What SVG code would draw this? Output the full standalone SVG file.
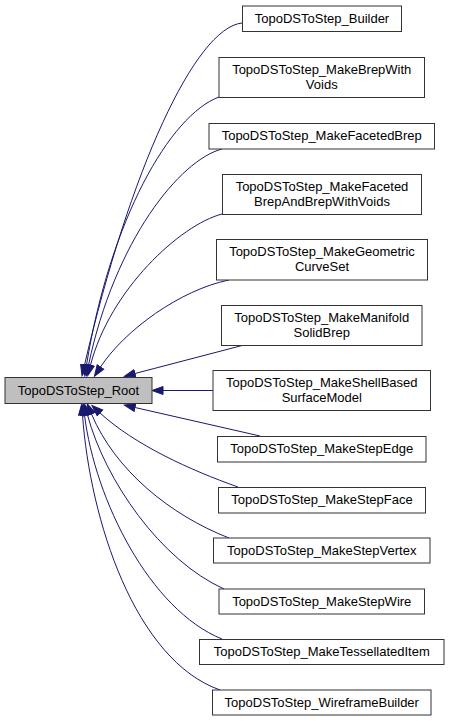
<svg xmlns="http://www.w3.org/2000/svg" width="449" height="721" viewBox="0 0 449 721">
<defs>
<style>
.n rect{fill:#ffffff;stroke:#333333;stroke-width:1}
.n.root rect{fill:#bfbfbf}
.n text{font-family:"Liberation Sans",Arial,sans-serif;font-size:13px;fill:#000000;text-anchor:middle}
.e path{fill:none;stroke:#191970;stroke-width:1;marker-end:url(#ah)}
</style>
<marker id="ah" markerUnits="userSpaceOnUse" markerWidth="13" markerHeight="12" refX="0.5" refY="6" orient="auto" viewBox="0 0 13 12">
<path d="M0.5,2 L11.5,6 L0.5,10 z" fill="#191970" stroke="#191970" stroke-width="1"/>
</marker>
</defs>
<rect width="449" height="721" fill="#ffffff"/>
<g id="edges" class="e">
<path d="M242,23 C195,28 130,170 84.5,365"/>
<path d="M219,97 C170,115 110,220 86.5,365"/>
<path d="M222,149 C180,160 115,240 88.5,365"/>
<path d="M222,214 C180,225 110,290 90.5,365"/>
<path d="M229,280 C180,290 125,330 100.5,367"/>
<path d="M244,345 L135,373.5"/>
<path d="M213,390.5 L163,390.5"/>
<path d="M260,436 L135,407.5"/>
<path d="M238,487 C190,470 135,445 100,413"/>
<path d="M229,538 C170,515 115,470 91.5,414"/>
<path d="M224,589 C160,560 105,480 87.5,415"/>
<path d="M222,639 C150,610 95,500 84.5,415"/>
<path d="M220,690 C135,660 90,520 82.5,415"/>
</g>
<g id="node_root" class="n root"><rect x="5" y="377.5" width="147" height="26"/><text x="78.5" y="394.5">TopoDSToStep_Root</text></g>
<g id="node_builder" class="n"><rect x="242.5" y="6" width="159" height="25.5"/><text x="322" y="22.5">TopoDSToStep_Builder</text></g>
<g id="node_brepwithvoids" class="n"><rect x="219" y="57.5" width="205.5" height="40"/><text x="321.75" y="73.5">TopoDSToStep_MakeBrepWith</text><text x="321.75" y="88.5">Voids</text></g>
<g id="node_facetedbrep" class="n"><rect x="209" y="123.5" width="225.5" height="25.5"/><text x="321.75" y="140">TopoDSToStep_MakeFacetedBrep</text></g>
<g id="node_facetedbrepandbrepwithvoids" class="n"><rect x="222.5" y="174.5" width="199" height="40"/><text x="322" y="190.5">TopoDSToStep_MakeFaceted</text><text x="322" y="205.5">BrepAndBrepWithVoids</text></g>
<g id="node_geometriccurveset" class="n"><rect x="216.5" y="239.5" width="211" height="40.5"/><text x="322" y="255.5">TopoDSToStep_MakeGeometric</text><text x="322" y="270.5">CurveSet</text></g>
<g id="node_manifoldsolidbrep" class="n"><rect x="221.5" y="305.5" width="200.5" height="40"/><text x="321.75" y="321.5">TopoDSToStep_MakeManifold</text><text x="321.75" y="336.5">SolidBrep</text></g>
<g id="node_shellbased" class="n"><rect x="213" y="370.5" width="217.5" height="40"/><text x="321.75" y="386.5">TopoDSToStep_MakeShellBased</text><text x="321.75" y="401.5">SurfaceModel</text></g>
<g id="node_stepedge" class="n"><rect x="217.5" y="436.5" width="208.5" height="25.5"/><text x="321.75" y="453">TopoDSToStep_MakeStepEdge</text></g>
<g id="node_stepface" class="n"><rect x="218.5" y="487.5" width="207" height="25.5"/><text x="322" y="504">TopoDSToStep_MakeStepFace</text></g>
<g id="node_stepvertex" class="n"><rect x="213.5" y="538" width="216.5" height="25"/><text x="321.75" y="554.5">TopoDSToStep_MakeStepVertex</text></g>
<g id="node_stepwire" class="n"><rect x="219" y="589" width="205.5" height="25"/><text x="321.75" y="605.5">TopoDSToStep_MakeStepWire</text></g>
<g id="node_tessellateditem" class="n"><rect x="199.5" y="639.5" width="244.5" height="25"/><text x="321.75" y="656">TopoDSToStep_MakeTessellatedItem</text></g>
<g id="node_wireframebuilder" class="n"><rect x="212.5" y="690" width="218.5" height="25"/><text x="321.75" y="706.5">TopoDSToStep_WireframeBuilder</text></g>
</svg>
